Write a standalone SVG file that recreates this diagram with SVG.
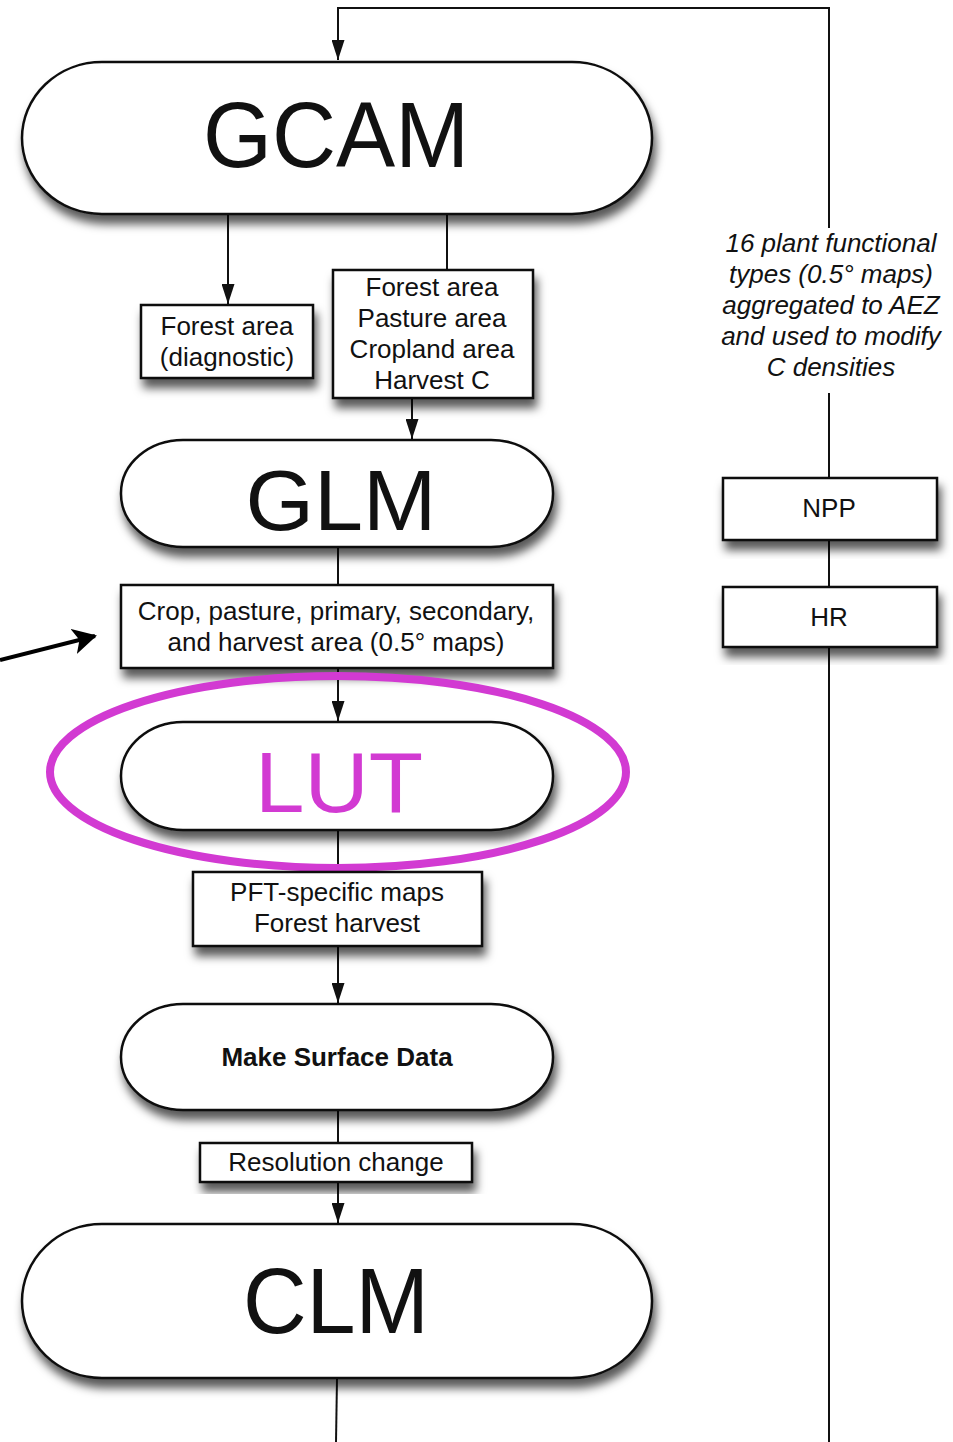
<svg xmlns="http://www.w3.org/2000/svg" width="953" height="1442" viewBox="0 0 953 1442">
<style>
.shape{fill:#fff;stroke:#111;stroke-width:2.5}
.ln{fill:none;stroke:#111;stroke-width:2}
.t{font-family:"Liberation Sans",Arial,sans-serif;fill:#111;text-anchor:middle}
.box{font-size:26px}
.big{font-size:92px}
.it{font-size:26px;font-style:italic}
</style>
<defs>
<filter id="sh" x="-10%" y="-20%" width="120%" height="150%">
<feDropShadow dx="3" dy="9" stdDeviation="5" flood-color="#000" flood-opacity="0.65"/>
</filter>
<marker id="ah" markerWidth="20" markerHeight="13" refX="20" refY="6.5" orient="auto" markerUnits="userSpaceOnUse" viewBox="0 0 20 13">
<path d="M0,0 L20,6.5 L0,13 Z" fill="#111"/>
</marker>
<marker id="ah2" markerWidth="26" markerHeight="26" refX="22" refY="13" orient="auto" markerUnits="userSpaceOnUse" viewBox="0 0 26 26">
<path d="M0,0 L24,13 L0,26 L6,13 Z" fill="#000"/>
</marker>
</defs>
<rect width="953" height="1442" fill="#fff"/>

<g id="connectors">
<path class="ln" d="M829,1442 V647 M829,587 V540 M829,478 V393 M829,228 V8 H338 V60" marker-end="url(#ah)"/>
<path class="ln" d="M228,214 V304" marker-end="url(#ah)"/>
<path class="ln" d="M447,214 V270"/>
<path class="ln" d="M412,398 V439" marker-end="url(#ah)"/>
<path class="ln" d="M338,547 V585"/>
<path class="ln" d="M338,668 V721" marker-end="url(#ah)"/>
<path class="ln" d="M338,830 V872"/>
<path class="ln" d="M338,946 V1003" marker-end="url(#ah)"/>
<path class="ln" d="M338,1110 V1143"/>
<path class="ln" d="M338,1182 V1223" marker-end="url(#ah)"/>
<path class="ln" d="M337,1378 L336,1442"/>
<path d="M0,660 L95,636" fill="none" stroke="#000" stroke-width="4" marker-end="url(#ah2)"/>
</g>

<g id="gcam">
<rect class="shape" x="22" y="62" width="630" height="152" rx="80" ry="76" filter="url(#sh)"/>
<text class="t big" x="336" y="167" textLength="266" lengthAdjust="spacingAndGlyphs">GCAM</text>
</g>

<g id="forest-diag">
<rect class="shape" x="141" y="305" width="172" height="73" filter="url(#sh)"/>
<text class="t box" x="227" y="335">Forest area</text>
<text class="t box" x="227" y="366">(diagnostic)</text>
</g>

<g id="forest-box">
<rect class="shape" x="333" y="270" width="200" height="128" filter="url(#sh)"/>
<text class="t box" x="432" y="296">Forest area</text>
<text class="t box" x="432" y="327">Pasture area</text>
<text class="t box" x="432" y="358">Cropland area</text>
<text class="t box" x="432" y="389">Harvest C</text>
</g>

<g id="glm">
<rect class="shape" x="121" y="440" width="432" height="107" rx="62" ry="53" filter="url(#sh)"/>
<text class="t" x="341" y="530" font-size="86" textLength="191" lengthAdjust="spacingAndGlyphs">GLM</text>
</g>

<g id="crop-box">
<rect class="shape" x="121" y="585" width="432" height="83" filter="url(#sh)"/>
<text class="t box" x="336" y="620">Crop, pasture, primary, secondary,</text>
<text class="t box" x="336" y="651">and harvest area (0.5° maps)</text>
</g>

<g id="lut">
<rect class="shape" x="121" y="722" width="432" height="108" rx="62" ry="54" filter="url(#sh)"/>
<text class="t" x="339" y="812" font-size="86" style="fill:#d23ad2" textLength="168" lengthAdjust="spacingAndGlyphs">LUT</text>
</g>

<g id="highlight">
<ellipse cx="338" cy="772" rx="288" ry="96" fill="none" stroke="#d23ad2" stroke-width="8"/>
</g>

<g id="pft-box">
<rect class="shape" x="193" y="872" width="289" height="74" filter="url(#sh)"/>
<text class="t box" x="337" y="901">PFT-specific maps</text>
<text class="t box" x="337" y="932">Forest harvest</text>
</g>

<g id="surface">
<rect class="shape" x="121" y="1004" width="432" height="106" rx="62" ry="53" filter="url(#sh)"/>
<text class="t" x="337" y="1066" font-size="26" font-weight="bold">Make Surface Data</text>
</g>

<g id="resolution">
<rect class="shape" x="200" y="1143" width="272" height="39" filter="url(#sh)"/>
<text class="t box" x="336" y="1171">Resolution change</text>
</g>

<g id="clm">
<rect class="shape" x="22" y="1224" width="630" height="154" rx="80" ry="77" filter="url(#sh)"/>
<text class="t big" x="336" y="1333" textLength="186" lengthAdjust="spacingAndGlyphs">CLM</text>
</g>

<g id="pft-label">
<text class="t it" x="831" y="252">16 plant functional</text>
<text class="t it" x="831" y="283">types (0.5° maps)</text>
<text class="t it" x="831" y="314">aggregated to AEZ</text>
<text class="t it" x="831" y="345">and used to modify</text>
<text class="t it" x="831" y="376">C densities</text>
</g>

<g id="npp">
<rect class="shape" x="723" y="478" width="214" height="62" filter="url(#sh)"/>
<text class="t box" x="829" y="517">NPP</text>
</g>

<g id="hr">
<rect class="shape" x="723" y="587" width="214" height="60" filter="url(#sh)"/>
<text class="t box" x="829" y="626">HR</text>
</g>
</svg>
